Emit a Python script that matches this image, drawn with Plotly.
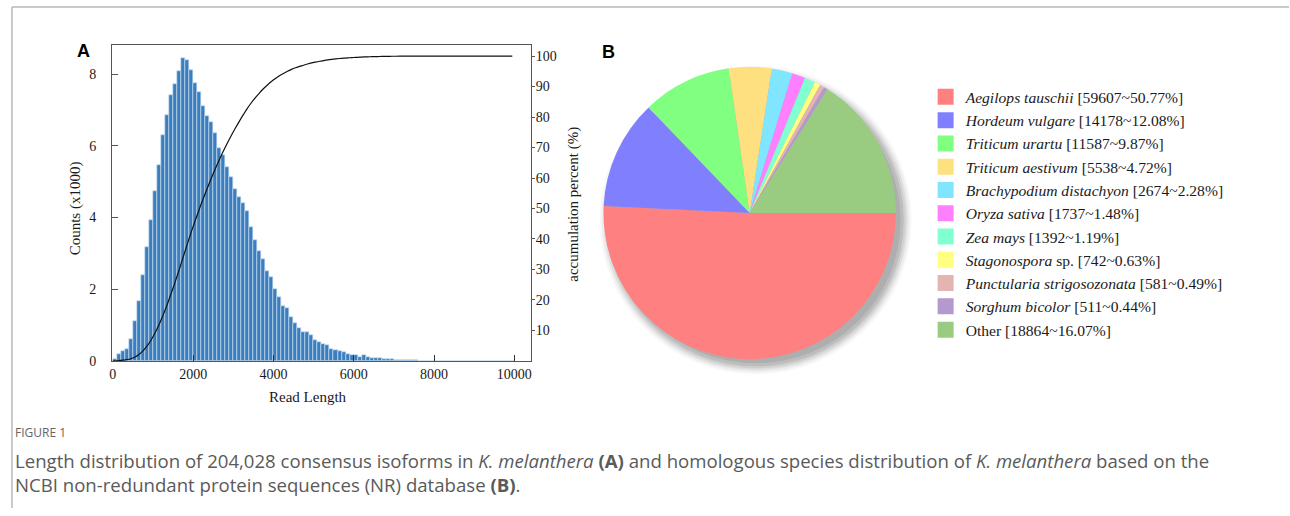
import numpy as np
import plotly.graph_objects as go

# ---------------- Panel A: read-length distribution ----------------
BIN_WIDTH = 100          # nt per histogram bin
MAX_LENGTH = 10000       # longest read length shown
# counts per bin, in thousands (bins start at 0, 100, 200, ...)
COUNTS_K = [0.05, 0.19, 0.26, 0.34, 0.60, 1.12, 1.68, 2.40, 3.17, 3.94,
            4.73, 5.47, 6.30, 6.87, 7.42, 7.73, 8.09, 8.45, 8.38, 8.10,
            7.75, 7.49, 7.10, 6.82, 6.65, 6.35, 5.95, 5.73, 5.40, 5.14,
            4.80, 4.56, 4.41, 4.19, 3.74, 3.37, 3.06, 2.84, 2.51, 2.34,
            2.00, 1.79, 1.53, 1.47, 1.23, 1.05, 0.92, 0.80, 0.80, 0.72,
            0.58, 0.52, 0.47, 0.43, 0.34, 0.30, 0.28, 0.24, 0.19, 0.17,
            0.15, 0.12, 0.16, 0.10, 0.07, 0.07, 0.07, 0.06, 0.04, 0.05,
            0.03, 0.03, 0.02, 0.02, 0.01, 0.01]
X_TICKS = [0, 2000, 4000, 6000, 8000, 10000]
Y_TICKS = [0, 2, 4, 6, 8]
PCT_TICKS = [10, 20, 30, 40, 50, 60, 70, 80, 90, 100]

# ---------------- Panel B: homologous species ----------------
SPECIES = ["Aegilops tauschii", "Hordeum vulgare", "Triticum urartu",
           "Triticum aestivum", "Brachypodium distachyon", "Oryza sativa",
           "Zea mays", "Stagonospora", "Punctularia strigosozonata",
           "Sorghum bicolor", "Other"]
SPECIES_SUFFIX = ["", "", "", "", "", "", "", " sp.", "", "", ""]
ITALIC = [True] * 10 + [False]
HITS = [59607, 14178, 11587, 5538, 2674, 1737, 1392, 742, 581, 511, 18864]
COLORS = ["#ff8080", "#8080ff", "#80ff80", "#ffe080", "#80e6ff", "#ff80ff",
          "#80ffd0", "#ffff80", "#e6b3b3", "#b399cc", "#99cc80"]

W, H = 1290, 516
GRID_H = 506.7   # vertical layout grid spanning the full figure height


def px_x(v):
    return v / W


def px_y(v):
    return 1 - v / GRID_H


# histogram bins (empty bins beyond the last read are zero)
n_bins = MAX_LENGTH // BIN_WIDTH
counts = np.zeros(n_bins)
counts[:len(COUNTS_K)] = COUNTS_K
centers = np.arange(n_bins) * BIN_WIDTH + BIN_WIDTH / 2
cum_pct = np.cumsum(counts) / counts.sum() * 100
line_x = np.concatenate([[0], centers])
line_y = np.concatenate([[0], cum_pct])

hits = np.array(HITS)
pct = hits / hits.sum() * 100
legend_names = []
for name, suf, it, h, p in zip(SPECIES, SPECIES_SUFFIX, ITALIC, HITS, pct):
    shown = f"<i>{name}</i>{suf}" if it else f"{name}{suf}"
    legend_names.append(f"{shown} [{h}~{p:.2f}%]")

fig = go.Figure()

fig.add_trace(go.Bar(
    x=centers, y=counts, width=BIN_WIDTH,
    marker=dict(color="#3b7dbd", line=dict(color="#c4dcf0", width=0.7)),
    showlegend=False, xaxis="x", yaxis="y", name="Counts",
))
fig.add_trace(go.Scatter(
    x=line_x, y=line_y, mode="lines", line=dict(color="#111111", width=1.2, shape="spline"),
    showlegend=False, xaxis="x", yaxis="y2", name="accumulation",
))

# pie chart (radius in figure pixels)
pie_cx, pie_cy, pie_r = 749, 212.5, 148.5
pie_yc = px_y(pie_cy)
fig.add_trace(go.Pie(
    labels=legend_names, values=HITS, sort=False, direction="clockwise", rotation=90,
    marker=dict(colors=COLORS, line=dict(width=0)), textinfo="none",
    domain=dict(x=[px_x(pie_cx - pie_r), px_x(pie_cx + pie_r)],
                y=[pie_yc - pie_r / H, pie_yc + pie_r / H]),
    showlegend=False,
))

# legend entries with square swatches
for name, col in zip(legend_names, COLORS):
    fig.add_trace(go.Scatter(
        x=[None], y=[None], mode="markers", name=name,
        marker=dict(symbol="square", size=16, color=col),
        xaxis="x", yaxis="y", showlegend=True,
    ))

serif = "Liberation Serif"
axis_common = dict(showgrid=False, zeroline=False, showline=True,
                   tickfont=dict(family=serif, size=14, color="#1a1a1a"))

shapes = []
# soft drop shadow behind the pie
sx, sy = pie_cx + 6, px_y(pie_cy + 7)
for dr, op in [(-3, 0.08), (0, 0.08), (2, 0.07), (4, 0.06), (6, 0.04), (8, 0.03)]:
    r = pie_r + dr
    shapes.append(dict(type="circle", xref="paper", yref="paper", layer="below",
                       x0=px_x(sx - r), x1=px_x(sx + r), y0=sy - r / H, y1=sy + r / H,
                       fillcolor=f"rgba(0,0,0,{op})", line=dict(width=0)))
# figure frame lines
shapes.append(dict(type="line", xref="paper", yref="paper", x0=px_x(9), x1=1,
                   y0=px_y(7), y1=px_y(7), line=dict(color="#b8b8b8", width=1.5)))
shapes.append(dict(type="line", xref="paper", yref="paper", x0=px_x(9), x1=px_x(9),
                   y0=px_y(7), y1=0, line=dict(color="#b8b8b8", width=1.5)))


def note(text, x, y, font, angle=0, xanchor="center", align="center"):
    return dict(text=text, x=px_x(x), y=px_y(y), xref="paper", yref="paper",
                xanchor=xanchor, yanchor="middle", textangle=angle, align=align,
                showarrow=False, font=font, borderpad=0)


label_font = dict(family="Liberation Sans", size=18, color="#000")
title_font = dict(family=serif, size=15, color="#1a1a1a")
cap_font = dict(family="Open Sans", size=18.6, color="#5a5a5a")
caption = ("Length distribution of 204,028 consensus isoforms in <i>K. melanthera</i> <b>(A)</b> "
           "and homologous species distribution of <i>K. melanthera</i> based on the<br>"
           "NCBI non-redundant protein sequences (NR) database <b>(B)</b>.")
annotations = [
    note("<b>A</b>", 81, 51, label_font),
    note("<b>B</b>", 607, 52, label_font),
    note("Read Length", 306, 396, title_font),
    note("Counts (x1000)", 73, 208, title_font, angle=-90),
    note("accumulation percent (%)", 572, 204, title_font, angle=-90),
    note("FIGURE 1", 11, 431, dict(family="Open Sans", size=12, color="#666"), xanchor="left"),
    note(caption, 11, 471, cap_font, xanchor="left", align="left"),
]

plot_l, plot_r, plot_t, plot_b = 109.5, 529.5, 45, 360

fig.update_layout(
    width=W, height=H, margin=dict(l=0, r=0, t=0, b=0),
    paper_bgcolor="white", plot_bgcolor="white",
    bargap=0,
    xaxis=dict(domain=[px_x(plot_l), px_x(plot_r)], range=[-17, 10412],
               tickvals=X_TICKS, ticktext=[str(v) for v in X_TICKS],
               ticks="inside", ticklen=6, tickcolor="#333",
               linecolor="#555", mirror=True, **axis_common),
    yaxis=dict(domain=[px_y(plot_b), px_y(plot_t)], range=[0, 8.81],
               tickvals=Y_TICKS, ticks="inside", ticklen=6, tickcolor="#555",
               linecolor="#555", ticklabelstandoff=12, **axis_common),
    yaxis2=dict(overlaying="y", side="right", range=[0, 103.6],
                tickvals=PCT_TICKS, ticks="outside", ticklen=3, tickcolor="#555",
                linecolor="#555", anchor="x", ticklabelstandoff=-2, **axis_common),
    legend=dict(x=px_x(925.5), y=px_y(80), xanchor="left", yanchor="top",
                font=dict(family=serif, size=15.6, color="#1a1a1a"),
                bgcolor="rgba(0,0,0,0)", tracegroupgap=0),
    shapes=shapes, annotations=annotations,
)

fig.write_html("out.html")
